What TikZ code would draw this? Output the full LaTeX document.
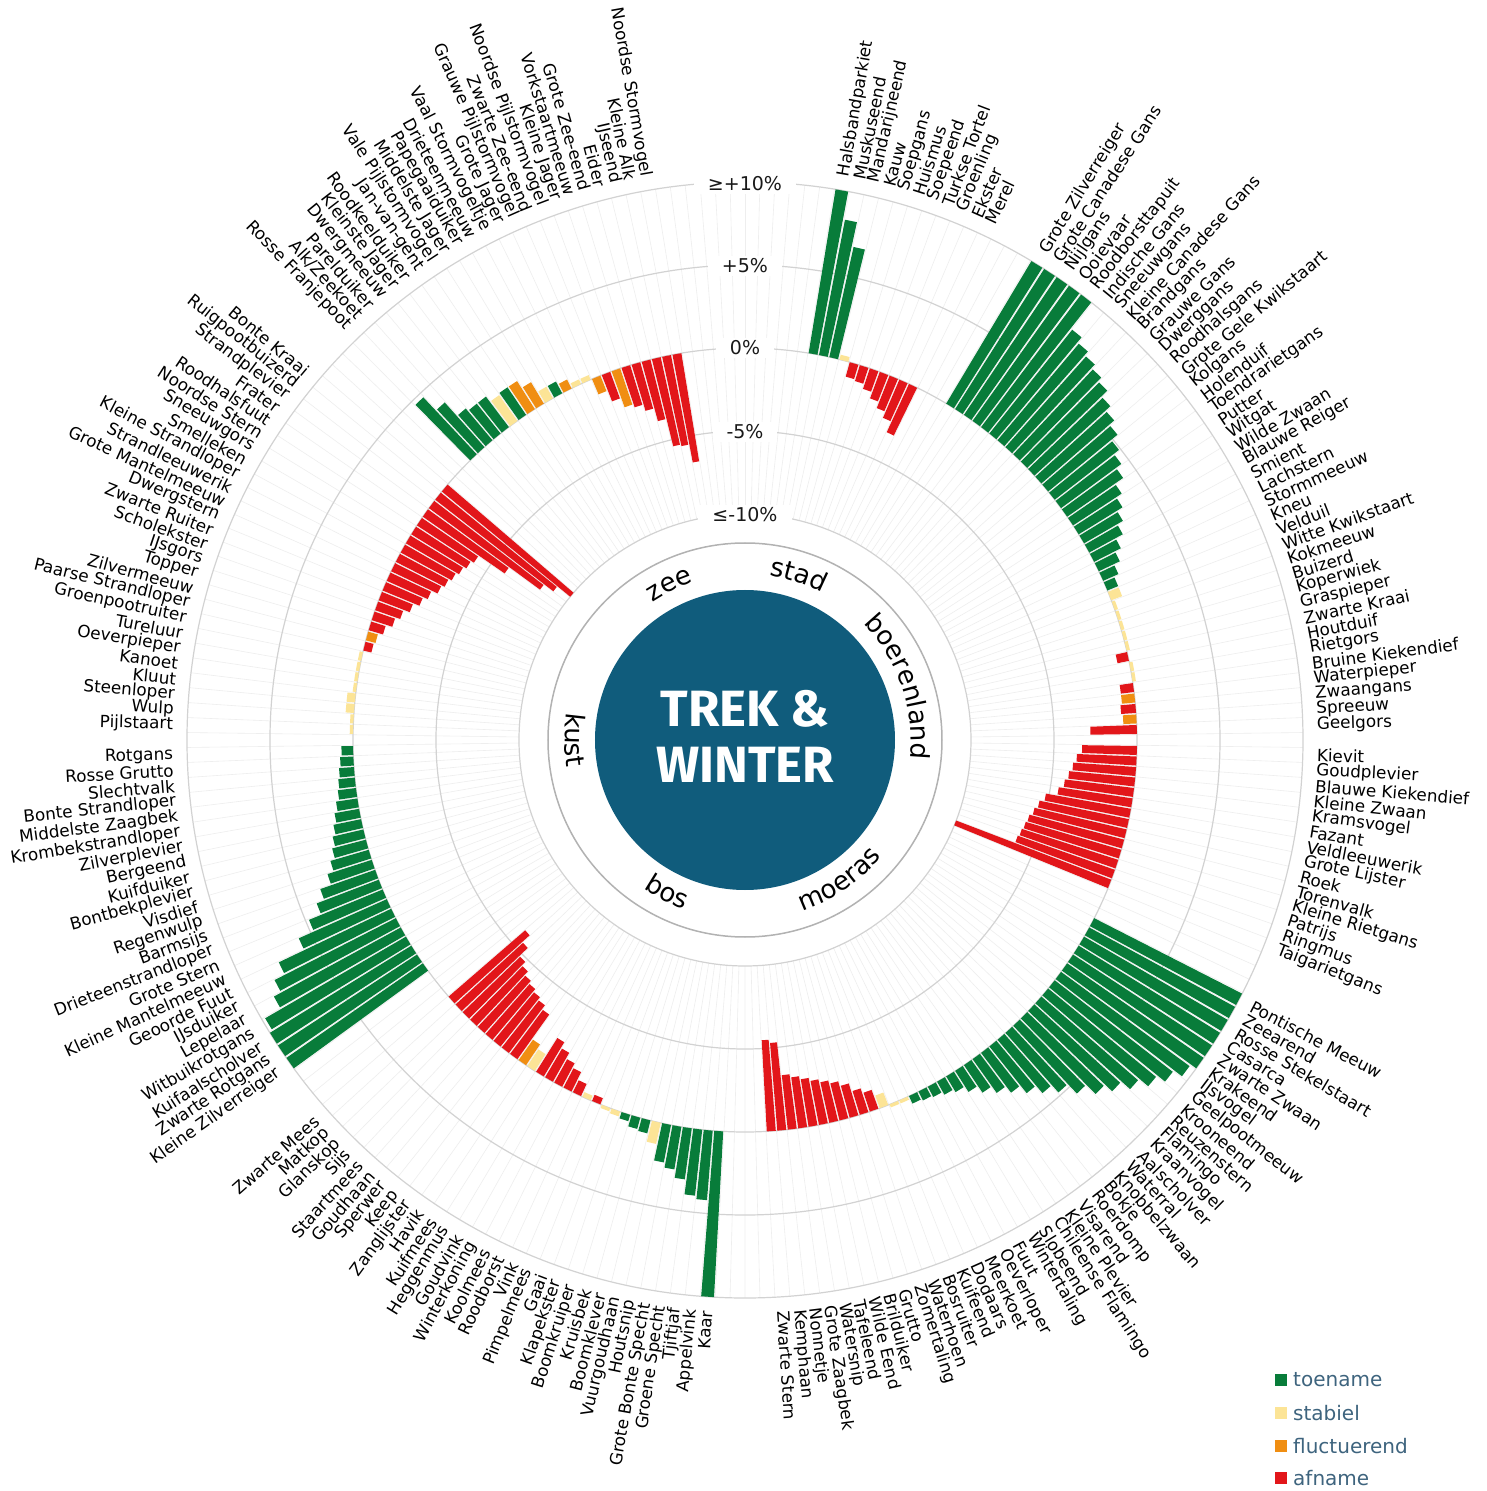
\documentclass[tikz,border=0pt]{standalone}
\usepackage{fontspec}
\setmainfont{DejaVu Sans}
\newfontfamily\titlefont{Fira Sans}
\usetikzlibrary{decorations.text}
\definecolor{cg}{RGB}{8,124,58}
\definecolor{cy}{RGB}{252,228,150}
\definecolor{co}{RGB}{240,142,18}
\definecolor{cr}{RGB}{226,22,26}
\definecolor{teal}{RGB}{16,92,124}
\definecolor{legtext}{RGB}{62,100,126}
\tikzset{
  lbl/.style={inner sep=0pt, font=\fontsize{16.8}{16.8}\selectfont, text=black},
  axislbl/.style={fill=white, inner xsep=14pt, inner ysep=3pt, font=\fontsize{19}{19}\selectfont, text=black!90},
  gridc/.style={gray!35, line width=1.2pt},
  slotline/.style={gray!13, line width=0.6pt},
  ringtext/.style={decorate, decoration={text along path, text align=center}},
}
\begin{document}
\begin{tikzpicture}[x=1pt,y=1pt]
\useasboundingbox (-745,-751) rectangle (741,740);
\fill[white] (-745,-751) rectangle (741,740);
\pgfmathsetmacro{\dlt}{360/234}
% faint radial slot lines
\foreach \k in {0,...,233}{
  \pgfmathsetmacro{\a}{90-\k*\dlt}
  \draw[slotline] (\a:226) -- (\a:558);
}
% grid circles
\foreach \r in {226,309,392,475,558}{
  \draw[gridc] (0,0) circle[radius=\r];
}
% bars and labels
\foreach \j/\c/\v/\t in {
6/cg/10/Halsbandparkiet, 7/cg/8.3/Muskuseend, 8/cg/6.8/Mandarijneend, 9/cy/0.3/Kauw,
10/cr/-0.9/Soepgans, 11/cr/-1.0/Huismus, 12/cr/-1.3/Soepeend, 13/cr/-1.7/Turkse Tortel,
14/cr/-2.1/Groenling, 15/cr/-2.5/Ekster, 16/cr/-3.2/Merel,
20/cg/10/Grote Zilverreiger, 21/cg/10/Grote Canadese Gans, 22/cg/10/Nijlgans, 23/cg/10/Ooievaar,
24/cg/10/Roodborsttapuit, 25/cg/8.0/Indische Gans, 26/cg/7.6/Sneeuwgans, 27/cg/7.3/Kleine Canadese Gans,
28/cg/7.0/Brandgans, 29/cg/6.7/Grauwe Gans, 30/cg/6.2/Dwerggans, 31/cg/5.8/Roodhalsgans,
32/cg/5.4/Grote Gele Kwikstaart, 33/cg/4.9/Kolgans, 34/cg/4.5/Holenduif, 35/cg/4.1/Toendrarietgans,
36/cg/3.5/Putter, 37/cg/3.1/Witgat, 38/cg/2.7/Wilde Zwaan, 39/cg/2.3/Blauwe Reiger,
40/cg/1.8/Smient, 41/cg/1.4/Lachstern, 42/cg/1.0/Stormmeeuw, 43/cg/0.7/Kneu,
44/cy/0.7/Velduil, 45/cy/0.2/Witte Kwikstaart, 46/cy/0.2/Kokmeeuw, 47/cy/0.2/Buizerd,
48/cy/0.2/Koperwiek, 49/cy/0.2/Graspieper, 50/cr/-0.7/Zwarte Kraai, 51/cy/0.2/Houtduif,
52/cy/0.2/Rietgors, 53/cr/-0.8/Bruine Kiekendief, 54/co/-0.8/Waterpieper, 55/cr/-0.9/Zwaangans,
56/co/-0.8/Spreeuw, 57/cr/-2.8/Geelgors,
59/cr/-3.3/Kievit, 60/cr/-3.6/Goudplevier, 61/cr/-3.8/Blauwe Kiekendief, 62/cr/-4.0/Kleine Zwaan,
63/cr/-4.2/Kramsvogel, 64/cr/-4.5/Fazant, 65/cr/-5.2/Veldleeuwerik, 66/cr/-5.5/Grote Lijster,
67/cr/-5.7/Roek, 68/cr/-5.9/Torenvalk, 69/cr/-6.0/Kleine Rietgans, 70/cr/-6.1/Patrijs,
71/cr/-6.2/Ringmus, 72/cr/-10/Taigarietgans,
76/cg/10/Pontische Meeuw, 77/cg/10/Zeearend, 78/cg/10/Rosse Stekelstaart, 79/cg/10/Casarca,
80/cg/10/Zwarte Zwaan, 81/cg/10/Krakeend, 82/cg/9.6/IJsvogel, 83/cg/9.0/Geelpootmeeuw,
84/cg/8.4/Krooneend, 85/cg/7.7/Reuzenstern, 86/cg/7.0/Flamingo, 87/cg/6.4/Kraanvogel,
88/cg/5.6/Aalscholver, 89/cg/4.8/Waterral, 90/cg/4.2/Knobbelzwaan, 91/cg/3.6/Bokje,
92/cg/3.0/Roerdomp, 93/cg/2.5/Visarend, 94/cg/2.0/Kleine Plevier, 95/cg/1.5/Chileense Flamingo,
96/cg/1.1/Slobeend, 97/cg/0.9/Wintertaling, 98/cg/0.7/Fuut, 99/cg/0.6/Oeverloper,
100/cg/0.5/Meerkoet, 101/cy/0.2/Dodaars, 102/cy/0.2/Kuifeend, 103/cy/-0.8/Bosruiter,
104/cr/-1.2/Waterhoen, 105/cr/-1.5/Zomertaling, 106/cr/-2.0/Grutto, 107/cr/-2.3/Brilduiker,
108/cr/-2.5/Wilde Eend, 109/cr/-2.7/Tafeleend, 110/cr/-2.9/Watersnip, 111/cr/-3.1/Grote Zaagbek,
112/cr/-3.3/Nonnetje, 113/cr/-5.3/Kemphaan, 114/cr/-5.5/Zwarte Stern,
119/cg/10/Kaar, 120/cg/4.2/Appelvink, 121/cg/4.0/Tjiftjaf, 122/cg/3.1/Groene Specht,
123/cg/2.6/Grote Bonte Specht, 124/cg/2.3/Houtsnip, 125/cy/1.3/Vuurgoudhaan, 126/cg/0.8/Boomklever,
127/cg/0.7/Kruisbek, 128/cg/0.4/Boomkruiper, 129/cy/0.3/Klapekster, 130/cy/0.2/Gaai,
131/cr/-0.4/Pimpelmees, 132/cy/-0.3/Vink, 133/cr/-0.8/Roodborst, 134/cr/-1.3/Koolmees,
135/cr/-1.6/Winterkoning, 136/cr/-2.0/Goudvink, 137/cr/-2.4/Heggenmus, 138/cy/-1.2/Kuifmees,
139/co/-1.5/Havik, 140/cr/-3.3/Zanglijster, 141/cr/-3.6/Keep, 142/cr/-3.8/Sperwer,
143/cr/-4.0/Goudhaan, 144/cr/-4.2/Staartmees, 145/cr/-4.5/Sijs, 146/cr/-4.8/Glanskop,
147/cr/-5.5/Matkop, 148/cr/-6.1/Zwarte Mees,
152/cg/10/Kleine Zilverreiger, 153/cg/10/Zwarte Rotgans, 154/cg/10/Kuifaalscholver, 155/cg/9.8/Witbuikrotgans,
156/cg/8.7/Lepelaar, 157/cg/8.2/IJsduiker, 158/cg/7.5/Geoorde Fuut, 159/cg/5.8/Kleine Mantelmeeuw,
160/cg/4.8/Grote Stern, 161/cg/4.0/Drieteenstrandloper, 162/cg/3.5/Barmsijs, 163/cg/2.8/Regenwulp,
164/cg/2.4/Visdief, 165/cg/2.1/Bontbekplevier, 166/cg/1.9/Kuifduiker, 167/cg/1.7/Bergeend,
168/cg/1.5/Zilverplevier, 169/cg/1.3/Krombekstrandloper, 170/cg/1.1/Middelste Zaagbek, 171/cg/1.0/Bonte Strandloper,
172/cg/0.9/Slechtvalk, 173/cg/0.8/Rosse Grutto, 174/cg/0.7/Rotgans,
176/cy/0.2/Pijlstaart, 177/cy/0.2/Wulp, 178/cy/0.5/Steenloper, 179/cy/0.5/Kluut,
180/cy/0.2/Kanoet, 181/cy/0.2/Oeverpieper, 182/cy/0.2/Tureluur, 183/cy/0.2/Groenpootruiter,
184/cr/-0.5/Paarse Strandloper, 185/co/-0.6/Zilvermeeuw, 186/cr/-0.9/Topper, 187/cr/-1.3/IJsgors,
188/cr/-1.6/Scholekster, 189/cr/-2.0/Zwarte Ruiter, 190/cr/-2.4/Dwergstern, 191/cr/-2.7/Grote Mantelmeeuw,
192/cr/-3.1/Strandleeuwerik, 193/cr/-3.3/Kleine Strandloper, 194/cr/-3.5/Smelleken, 195/cr/-3.7/Sneeuwgors,
196/cr/-3.9/Noordse Stern, 197/cr/-4.1/Roodhalsfuut, 198/cr/-6.0/Frater, 199/cr/-8.3/Strandplevier,
200/cr/-9.0/Ruigpootbuizerd, 201/cr/-10/Bonte Kraai,
205/cg/4.7/Rosse Franjepoot, 206/cg/3.6/Alk\slash Zeekoet, 207/cg/2.5/Parelduiker, 208/cg/2.3/Dwergmeeuw,
209/cg/2.3/Kleinste Jager, 210/cy/1.9/Roodkeelduiker, 211/cg/2.0/Jan-van-gent, 212/co/2.0/Vale Pijlstormvogel,
213/co/1.5/Middelste Jager, 214/cy/0.8/Papegaaiduiker, 215/cg/0.8/Drieteenmeeuw, 216/co/0.6/Vaal Stormvogeltje,
217/cy/0.3/Grote Jager, 218/cy/0.3/Grauwe Pijlstormvogel, 219/co/-1.0/Zwarte Zee-eend, 220/cr/-1.7/Noordse Pijlstormvogel,
221/co/-2.3/Kleine Jager, 222/cr/-2.5/Vorkstaartmeeuw, 223/cr/-2.9/Grote Zee-eend, 224/cr/-3.7/Eider,
225/cr/-5.4/IJseend, 226/cr/-5.5/Kleine Alk, 227/cr/-6.6/Noordse Stormvogel}{
  \pgfmathsetmacro{\th}{90-(\j+0.5)*\dlt}
  \pgfmathsetmacro{\ta}{\th-0.66}
  \pgfmathsetmacro{\tb}{\th+0.66}
  \pgfmathsetmacro{\rr}{392+16.6*\v}
  \fill[\c] (\ta:392) arc[start angle=\ta, end angle=\tb, radius=392] -- (\tb:\rr) arc[start angle=\tb, end angle=\ta, radius=\rr] -- cycle;
  \ifnum\j<117
    \node[lbl, rotate=\th, anchor=west] (s\j) at (\th:572) {\t};
  \else
    \node[lbl, rotate=\th+180, anchor=east] (s\j) at (\th:572) {\t};
  \fi
}
% axis labels
\node[axislbl] (a10) at (0,556) {≥+10\%};
\node[axislbl] (a5) at (0,474) {+5\%};
\node[axislbl] (a0) at (0,392) {0\%};
\node[axislbl] (am5) at (0,308) {-5\%};
\node[axislbl] (am10) at (0,225) {≤-10\%};
% inner ring
\fill[white] (0,0) circle[radius=197];
\draw[gray!60, line width=1.5pt] (0,0) circle[radius=197];
\fill[teal] (0,0) circle[radius=150];
\node[text=white, font=\titlefont\bfseries\fontsize{51}{51}\selectfont] (t1) at (0,31) {TREK \&};
\node[text=white, font=\titlefont\bfseries\fontsize{51}{51}\selectfont] (t2) at (0,-25) {WINTER};
% sector names
\path[ringtext, decoration={text={|\fontsize{26}{26}\selectfont|zee}}] (146:166) arc[start angle=146, end angle=86, radius=166];
\path[ringtext, decoration={text={|\fontsize{26}{26}\selectfont|stad}}] (102:166) arc[start angle=102, end angle=42, radius=166];
\path[ringtext, decoration={text={|\fontsize{26}{26}\selectfont|boerenland}}] (66:166) arc[start angle=66, end angle=-28, radius=166];
\path[ringtext, decoration={text={|\fontsize{26}{26}\selectfont|moeras}}] (-96:180) arc[start angle=-96, end angle=-16, radius=180];
\path[ringtext, decoration={text={|\fontsize{26}{26}\selectfont|bos}}] (-147:180) arc[start angle=-147, end angle=-87, radius=180];
\path[ringtext, decoration={text={|\fontsize{26}{26}\selectfont|kust}}] (145:180) arc[start angle=145, end angle=215, radius=180];
% legend
\foreach \y/\c/\t/\n in {-640/cg/toename/l1, -673/cy/stabiel/l2, -706/co/fluctuerend/l3, -738/cr/afname/l4}{
  \fill[\c] (530,\y-6) rectangle ++(12,12);
  \node[anchor=west, inner sep=0pt, text=legtext, font=\fontsize{20}{20}\selectfont] (\n) at (548,\y) {\t};
}
\end{tikzpicture}
\end{document}
